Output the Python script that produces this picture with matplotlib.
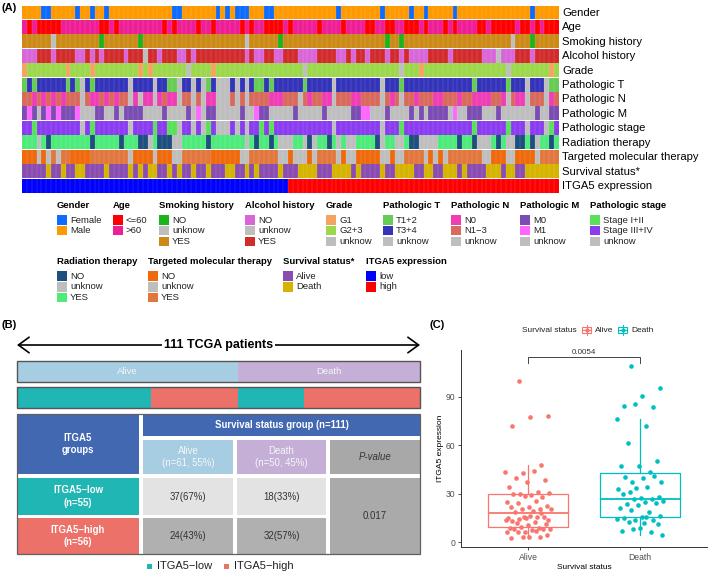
import numpy as np
import matplotlib.pyplot as plt
from matplotlib.colors import to_rgb
from matplotlib.patches import Rectangle

plt.rcParams['font.family'] = ['Liberation Sans', 'DejaVu Sans']

W, H = 709, 575

# ---------------- data ----------------
# panel A: one run-length coded string per annotation track (code + run length), 111 patients
track_names = ["Gender", "Age", "Smoking history", "Alcohol history", "Grade",
               "Pathologic T", "Pathologic N", "Pathologic M", "Pathologic stage",
               "Radiation therapy", "Targeted molecular therapy", "Survival status*",
               "ITGA5 expression"]
gender = "M4 F2 M5 F M2 F M2 F M10  M3 F2 M7 F M F M F3 M3 F2 M4  M9 F M8 F M5 F M2  F M5 F M15 F M5"
age = "P R P R5 P8 R2 P R P8  P R P R P4 R P2 R P5 R P R P2 R4 P R  P5 R P4 R P4 R2 P2 R2 P2 R3 P  R P3 R P R P4 R2 P R5 P R2 P R P R3"
smoking = "Y6 U Y9 N Y7 N Y3  Y18 U Y6 N Y2  Y19 N Y2 N Y4  Y18 U Y3 N Y5"
alcohol = "N3 Y3 N Y4 N2 Y N Y N Y4 N Y3 U Y2  N Y3 N2 Y N Y10 N Y N2 Y2 N2 Y2  Y N4 Y4 N2 Y N Y2 N Y3 N Y2 N Y N3  N Y4 N Y6 N3 U N3 Y3 N Y5"
grade = "a b8 a b4 a b9 a b a b  b6 U b4 a b16  b2 U b19 U b3 a  b17 U b8 a b"
path_t = "a b a b6 a b a U b a b7 U b4 U  b2 a2 U b2 U b U a b U3 b U b U b a2 b a b4  b2 a b5 U b9 U b3 a b4  b10 a b6 a b3 U b3 U a2"
path_n = "b2 a b a b a b a b3 U b a2 b a b a b2 U a U a2 U  a b a2 U b2 U b U a2 U3 b U b U b4 a3 b2  b U b a b2 a2 U b3 a2 b4 U b a b U b2 a b  b2 a2 b3 a b2 a4 b2 a U b a2 U b3 U a b"
path_m = "a b a U a b a b a3 b U3 a2 U2 a U a4 U3  U a U4 a U b U a2 U5 a U2 b a2 U5  a U5 a U5 a2 b2 U3 a U4 a U a  U a4 U b U2 a3 U3 a U7 a U2 a2"
stage = "b2 a b9 U b a b7 U b4 a  b2 a2 U b2 U b U a b U3 b U b U b2 a b a b4  b8 U b9 U b3 a b4  b10 a b6 a b3 U b3 U a b"
radiation = "b3 U b a b8 a b5 a b3 a2 U b  a3 U2 b5 a b7 U b a b2 a b U3  b2 U a U b2 a b U b U2 b4 a U b2 U2 b a2 U  U3 b4 a b2 a U3 b a b U2 a2 b a U b2 a b"
targeted = "a3 U a U b U b2 a4 b8 U a4 U  a3 U2 b6 a6 U2 b6 U2 a  U3 a U b4 U a U2 a5 U2 a U2 b4  U a U a U b7 U2 a3 U2 a4 U b4"
survival = "A5 D A2 D A2 D2 A4 D A4 D A D A D2  A2 D A D A2 D A2 D A3 D2 A2 D A D A4 D A2  A D4 A3 D4 A D A4 D A2 D4 A2  D2 A2 D3 A D A4 D3 A D2 A2 D7"
itga5 = "L55 H56"
tracks = [gender, age, smoking, alcohol, grade, path_t, path_n, path_m, stage,
          radiation, targeted, survival, itga5]

legend_labels = [
    [("F", "Female"), ("M", "Male")],
    [("R", "<=60"), ("P", ">60")],
    [("N", "NO"), ("U", "unknow"), ("Y", "YES")],
    [("N", "NO"), ("U", "unknow"), ("Y", "YES")],
    [("a", "G1"), ("b", "G2+3"), ("U", "unknow")],
    [("a", "T1+2"), ("b", "T3+4"), ("U", "unknow")],
    [("a", "N0"), ("b", "N1\u22123"), ("U", "unknow")],
    [("a", "M0"), ("b", "M1"), ("U", "unknow")],
    [("a", "Stage I+II"), ("b", "Stage III+IV"), ("U", "unknow")],
    [("a", "NO"), ("U", "unknow"), ("b", "YES")],
    [("a", "NO"), ("U", "unknow"), ("b", "YES")],
    [("A", "Alive"), ("D", "Death")],
    [("L", "low"), ("H", "high")],
]

# panel B
n_patients = 111
status_groups = ["Alive", "Death"]
status_counts = [61, 50]
itga5_groups = ["ITGA5\u2212low", "ITGA5\u2212high"]
# rows: ITGA5-low, ITGA5-high ; cols: Alive, Death
cross_counts = [[37, 18], [24, 32]]
p_value_b = "0.017"

# panel C: ITGA5 expression per survival group
alive_expr = [99.8, 78.1, 77.3, 72.0, 48.0, 43.1, 43.5, 43.9, 40.0, 38.4,
              37.1, 34.4, 30.9, 29.9, 30.3, 29.3, 30.1, 28.0, 28.7, 24.7,
              25.4, 24.5, 22.5, 21.7, 22.1, 20.6, 20.6, 20.4, 19.6, 18.8,
              15.5, 14.8, 15.3, 15.9, 14.4, 13.8, 16.3, 13.0, 17.9, 15.5,
              13.6, 12.6, 12.0, 11.3, 10.5, 8.9, 9.1, 9.3, 8.5, 7.6,
              8.0, 8.5, 6.6, 6.2, 7.2, 6.6, 4.3, 3.3, 2.9, 3.1, 3.3]
death_expr = [109.1, 95.3, 90.3, 84.3, 83.9, 85.6, 76.5, 72.2, 61.4, 50.5,
              47.4, 47.2, 43.7, 37.5, 37.3, 40.0, 40.4, 41.2, 33.4, 32.8,
              34.0, 31.3, 28.2, 27.2, 29.9, 26.6, 26.6, 25.6, 24.7, 23.9,
              24.5, 22.9, 21.0, 19.0, 19.8, 16.3, 15.9, 14.8, 13.8, 13.8,
              14.6, 15.9, 12.8, 11.3, 8.9, 6.8, 6.6, 8.0, 4.3, 12.0]
p_value_c = "0.0054"

# ---------------- colours ----------------
GREY = "#BEBEBE"
palettes = [
    {"F": "#0D6BFF", "M": "#FF9900"},
    {"R": "#FF0000", "P": "#EE1E96"},
    {"N": "#1DB31D", "U": GREY, "Y": "#CB8A17"},
    {"N": "#D966D9", "U": GREY, "Y": "#D22B2B"},
    {"a": "#F4A462", "b": "#9CD84B", "U": GREY},
    {"a": "#66CC55", "b": "#3434BB", "U": GREY},
    {"a": "#EE3DB5", "b": "#D86A5C", "U": GREY},
    {"a": "#7B4DB3", "b": "#FF66FF", "U": GREY},
    {"a": "#5AE05A", "b": "#8B3CF0", "U": GREY},
    {"a": "#1F4F7F", "b": "#4DEB7A", "U": GREY},
    {"a": "#EE6A0C", "b": "#E2773E", "U": GREY},
    {"A": "#8A4CB0", "D": "#D4B400"},
    {"L": "#0000FF", "H": "#FF0000"},
]
ALIVE_C, DEATH_C = "#A6CDE2", "#C6AFD6"
TEAL, SALMON, BLUE = "#1FB6B4", "#EC7168", "#4268B2"
GG_RED, GG_CYAN = "#F8766D", "#00BFC4"


def expand(rle):
    out = []
    for tok in rle.split():
        out += [tok[0]] * (int(tok[1:]) if len(tok) > 1 else 1)
    return out


fig = plt.figure(figsize=(W / 100, H / 100), dpi=100)
ax0 = fig.add_axes([0, 0, 1, 1])
ax0.set_xlim(0, W)
ax0.set_ylim(H, 0)
ax0.axis("off")


def fax(x0, y0, x1, y1):
    return fig.add_axes([x0 / W, 1 - y1 / H, (x1 - x0) / W, (y1 - y0) / H])


# ---------------- panel A ----------------
ax0.text(2, 8, "(A)", fontsize=8, fontweight="bold", va="center")
axh = fax(22, 5.7, 559, 193.3)
for r, (name, rle, pal) in enumerate(zip(track_names, tracks, palettes)):
    codes = expand(rle)
    assert len(codes) == n_patients, name
    rgb = np.array([to_rgb(pal[c]) for c in codes])[None]
    axh.imshow(rgb, extent=(0, n_patients, r + 0.955, r + 0.045),
               aspect="auto", interpolation="nearest")
    axh.text(n_patients + 0.6, r + 0.5, name, fontsize=8.1, va="center", ha="left")
axh.vlines(np.arange(1, n_patients), 0, len(tracks), color="white", lw=0.3, alpha=0.3)
axh.set_xlim(0, n_patients)
axh.set_ylim(len(tracks), 0)
axh.axis("off")


def legend_block(x, y, k):
    ax0.text(x, y, track_names[k], fontsize=6.8, fontweight="bold", va="center")
    for j, (code, lab) in enumerate(legend_labels[k]):
        yy = y + 9.6 + 10.7 * j
        ax0.add_patch(Rectangle((x, yy), 10, 9.7, fc=palettes[k][code], ec="none"))
        ax0.text(x + 13, yy + 5, lab, fontsize=6.8, va="center", color="#222222")


for x, k in zip([57, 113, 159, 245, 326, 383, 451, 520, 590], range(9)):
    legend_block(x, 205.5, k)
for x, k in zip([57, 148, 283, 366], range(9, 13)):
    legend_block(x, 261.5, k)

# ---------------- panel B ----------------
ax0.text(2, 325, "(B)", fontsize=8, fontweight="bold", va="center")
ax0.annotate("", xy=(17, 345), xytext=(420, 345),
             arrowprops=dict(arrowstyle="<->,head_length=0.55,head_width=0.4",
                             mutation_scale=14, lw=1.2, color="black",
                             shrinkA=0, shrinkB=0))
ax0.text(218.5, 345, "111 TCGA patients", fontsize=9, fontweight="bold",
         ha="center", va="center", bbox=dict(fc="white", ec="none", pad=1.2))

axb = fax(17, 361, 420, 408)
left = 0
for lab, cnt, col in zip(status_groups, status_counts, [ALIVE_C, DEATH_C]):
    axb.barh(10.5, cnt, left=left, height=21, color=col)
    axb.text(left + cnt / 2, 10.5, lab, fontsize=6.8, color="#F4F6FA",
             ha="center", va="center")
    left += cnt
left = 0
for s in range(2):
    for g, col in enumerate([TEAL, SALMON]):
        cnt = cross_counts[g][s]
        axb.barh(36.5, cnt, left=left, height=21, color=col)
        left += cnt
for yb in (0, 26):
    axb.add_patch(Rectangle((0, yb), n_patients, 21, fill=False, ec="#555555",
                            lw=1, clip_on=False))
axb.set_xlim(0, n_patients)
axb.set_ylim(47, 0)
axb.axis("off")

row_tot = [sum(r) for r in cross_counts]
col_tot = [cross_counts[0][j] + cross_counts[1][j] for j in range(2)]


def cell(x0, y0, x1, y1, fc, txt, color="white", **kw):
    ax0.add_patch(Rectangle((x0, y0), x1 - x0, y1 - y0, fc=fc, ec="none"))
    ax0.text((x0 + x1) / 2, (y0 + y1) / 2, txt, color=color, ha="center",
             va="center", fontsize=6.9, linespacing=1.35, **kw)


cell(17, 414, 139, 474, BLUE, "ITGA5\ngroups", fontweight="bold")
cell(143, 414, 420, 436, BLUE, "Survival status group (n=%d)" % n_patients,
     fontweight="bold")
for j, (x0, x1, fc) in enumerate([(143, 233, ALIVE_C), (237, 326, DEATH_C)]):
    cell(x0, 440, x1, 474, fc, "%s\n(n=%d, %d%%)" % (status_groups[j], col_tot[j],
         round(100 * col_tot[j] / n_patients)), color="#F4F6FA")
cell(330, 440, 420, 474, "#A8A8A8", "P-value", color="#333333", style="italic")
for g, (y0, y1, fc, cfc) in enumerate([(478, 515, TEAL, "#E3E3E3"),
                                       (518, 554, SALMON, "#B0B0B0")]):
    cell(17, y0, 139, y1, fc, "%s\n(n=%d)" % (itga5_groups[g], row_tot[g]),
         fontweight="bold")
    for j, (x0, x1) in enumerate([(143, 233), (237, 326)]):
        c = cross_counts[g][j]
        cell(x0, y0, x1, y1, cfc, "%d(%d%%)" % (c, round(100 * c / row_tot[g])),
             color="#333333")
cell(330, 478, 420, 554, "#AAAAAA", p_value_b, color="#333333")
ax0.add_patch(Rectangle((17, 414), 403, 140, fill=False, ec="#606060", lw=0.9))

for x, col, lab in [(147, TEAL, itga5_groups[0]), (224, SALMON, itga5_groups[1])]:
    ax0.add_patch(Rectangle((x, 563.5), 5, 5, fc=col, ec="none"))
    ax0.text(x + 10, 566, lab, fontsize=8, va="center", color="#222222")

# ---------------- panel C ----------------
ax0.text(430, 325, "(C)", fontsize=8, fontweight="bold", va="center")
axc = fax(461, 350, 707, 547)
groups = [alive_expr, death_expr]
cols = [GG_RED, GG_CYAN]
bp = axc.boxplot(groups, positions=[1, 2], widths=0.72, whis=1.5, showfliers=False,
                 patch_artist=True, manage_ticks=False)
for i, col in enumerate(cols):
    bp["boxes"][i].set(facecolor="white", edgecolor=col, lw=0.9)
    bp["medians"][i].set(color=col, lw=1.3)
    for w in bp["whiskers"][2 * i:2 * i + 2]:
        w.set(color=col, lw=0.9)
    for c in bp["caps"][2 * i:2 * i + 2]:
        c.set_visible(False)
for i, (vals, col) in enumerate(zip(groups, cols)):
    k = np.arange(len(vals))
    jit = ((k * 0.6180339887 + 0.3) % 1 - 0.5) * 0.42
    axc.scatter(i + 1 + jit, vals, s=11, color=col, lw=0, zorder=3)
axc.plot([1, 1, 2, 2], [111, 114.6, 114.6, 111], color="#444444", lw=0.7)
axc.text(1.5, 115.3, p_value_c, fontsize=5.8, ha="center", va="bottom", color="#333333")
axc.set_xlim(0.4, 2.6)
axc.set_ylim(-2.9, 119)
axc.set_yticks([0, 30, 60, 90])
axc.set_xticks([1, 2])
axc.set_xticklabels(status_groups)
axc.tick_params(labelsize=6.2, labelcolor="#4D4D4D", length=2.5, width=0.6,
                color="#333333", pad=1.5)
for s in ("top", "right"):
    axc.spines[s].set_visible(False)
for s in ("left", "bottom"):
    axc.spines[s].set(lw=0.7, color="#333333")
axc.set_ylabel("ITGA5 expression", fontsize=6, labelpad=1)
axc.set_xlabel("Survival status", fontsize=6, labelpad=2)

# ggplot style legend
ax0.text(522, 330, "Survival status", fontsize=6, va="center", color="#222222")
for x, col, lab in [(582, GG_RED, "Alive"), (618, GG_CYAN, "Death")]:
    ax0.plot([x + 4.5, x + 4.5], [325, 335], color=col, lw=0.7)
    ax0.add_patch(Rectangle((x, 327), 9, 6, fc="white", ec=col, lw=0.8))
    ax0.plot([x, x + 9], [330, 330], color=col, lw=0.8)
    ax0.plot(x + 4.5, 330, "o", color=col, ms=2)
    ax0.text(x + 13, 330, lab, fontsize=6, va="center", color="#222222")

fig.savefig("out.png", dpi=100)
